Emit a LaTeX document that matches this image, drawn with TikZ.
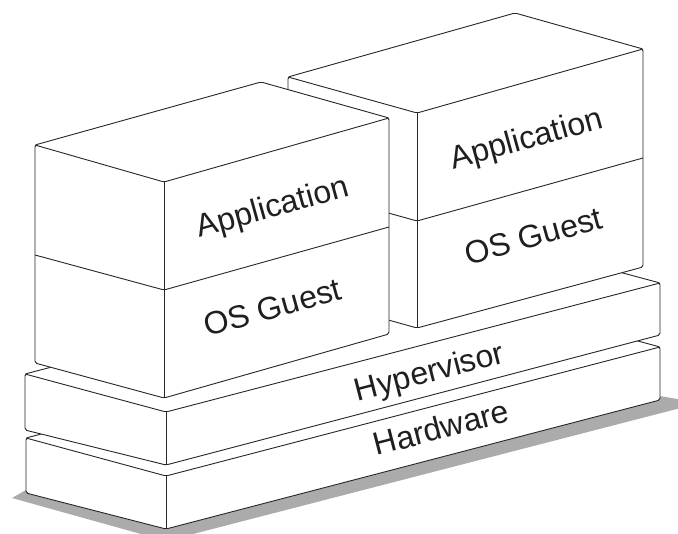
\documentclass[tikz,border=0pt]{standalone}
\usepackage{fontspec}
\setmainfont{Liberation Sans}
\begin{document}
\begin{tikzpicture}[x=1pt,y=-1pt,
  edge/.style={draw=black!85, line width=0.9pt, line join=round, rounded corners=1.8pt},
  slab/.style={edge, fill=white},
  layer/.style={font=\fontsize{32}{38}\selectfont, text=black!88, inner sep=0pt, anchor=base}]
\useasboundingbox (0,0) rectangle (678,534);
\clip (0,0) rectangle (678,534);

% ground shadow under the stack
\fill[black!33] (12,498) -- (166,541) -- (700,403) -- (660,396) -- (26,490) -- cycle;

% hardware slab
\path[slab] (26,438) -- (520,309) -- (660,347) -- (660,400) -- (166,529) -- (26,493) -- cycle;
\draw[edge] (26,438) -- (166,476) -- (660,347);
\draw[edge] (166,476) -- (166,529);

% hypervisor slab
\path[slab] (25,374) -- (519,245) -- (660,283) -- (660,335) -- (166,465) -- (25,430) -- cycle;
\draw[edge] (25,374) -- (166,412) -- (660,283);
\draw[edge] (166,412) -- (166,465);

% right guest stack (behind)
\path[slab] (288,77) -- (515,13) -- (643,49) -- (643,267) -- (417,328) -- (288,292) -- cycle;
\draw[edge] (288,77) -- (417,113) -- (643,49);
\draw[edge] (417,113) -- (417,328);
\draw[edge] (288,185) -- (417,221) -- (643,158);

% left guest stack (front)
\path[slab] (35,145) -- (261,82) -- (389,118) -- (389,334) -- (164,398) -- (35,363) -- cycle;
\draw[edge] (35,145) -- (164,182) -- (389,118);
\draw[edge] (164,182) -- (164,398);
\draw[edge] (35,255) -- (164,290) -- (389,227);

% layer names on the front faces
\node[layer, rotate=15.5] (appL) at (275,217) {Application};
\node[layer, rotate=15.5] (osL) at (275.5,318) {OS Guest};
\node[layer, rotate=15.5] (appR) at (529,148.5) {Application};
\node[layer, rotate=15.5] (osR) at (536.5,246.5) {OS Guest};
\node[layer, rotate=14.5] (hyp) at (432,382) {Hypervisor};
\node[layer, rotate=14.5] (hw) at (444,438.5) {Hardware};
\end{tikzpicture}
\end{document}
